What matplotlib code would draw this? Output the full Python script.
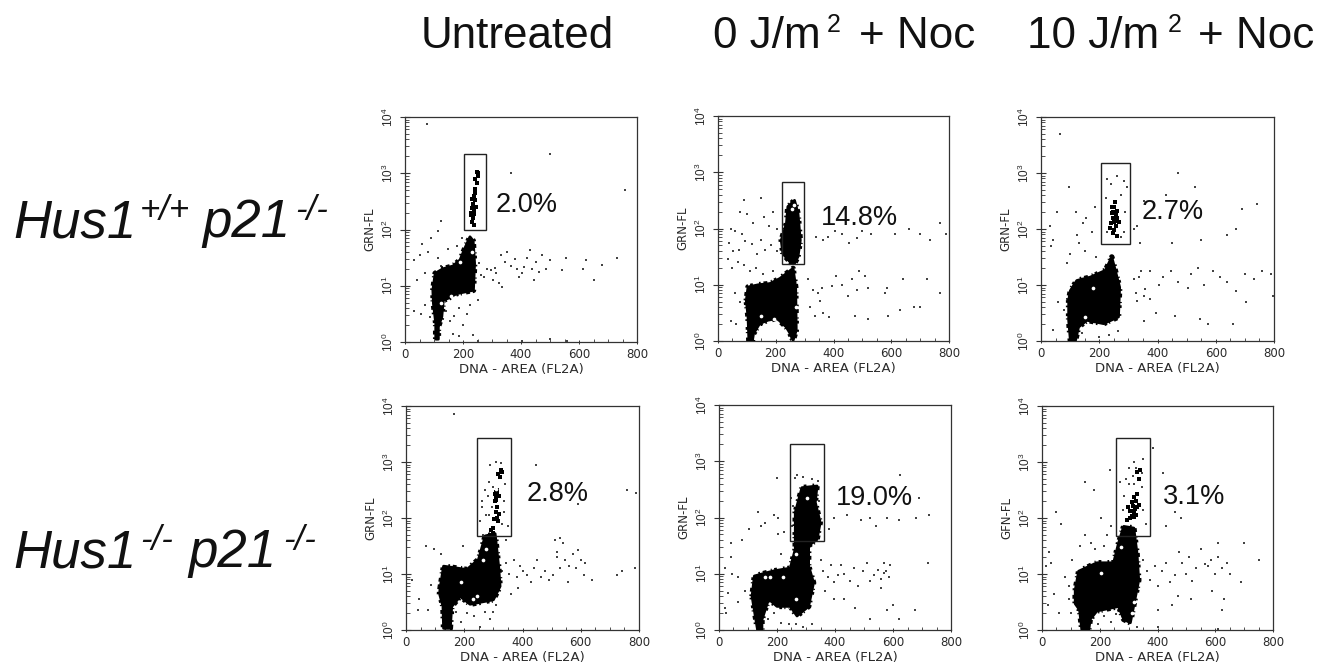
import numpy as np
import matplotlib
matplotlib.use("Agg")
import matplotlib.pyplot as plt
from matplotlib.patches import Rectangle
from matplotlib.ticker import FixedLocator, NullFormatter

plt.rcParams['font.family'] = ['Liberation Sans', 'DejaVu Sans']
plt.rcParams['mathtext.fontset'] = 'dejavusans'
plt.rcParams['mathtext.default'] = 'regular'

PERCENTS = ["2.0%", "14.8%", "2.7%", "2.8%", "19.0%", "3.1%"]
X_TICKS = [0, 200, 400, 600, 800]
Y_DECADES = [0, 1, 2, 3, 4]

# Gates: DNA low, DNA high, log10 GFP low, log10 GFP high
GATES = [(204, 279, 1.99, 3.35), (223, 298, 1.37, 2.83), (206, 304, 1.73, 3.18),
         (245, 361, 1.68, 3.43), (246, 363, 1.59, 3.31), (255, 373, 1.68, 3.42)]

# Dense population outlines: (DNA area, log10 GFP)
BLOB1 = [(96,.92),(104,1.22),(130,1.3),(165,1.35),(190,1.46),(205,1.65),(224,1.87),(235,1.8),(240,1.4),(236,.92),(178,.86),(150,.78),(132,.74),(127,.45),(115,.27),(115,.05),(106,.05),(106,.33),(98,.68)]
BLOB2 = [(98,.72),(104,.96),(140,1.0),(179,1.02),(214,1.11),(260,1.29),(269,.96),(271,.19),(260,.01),(248,.15),(236,.25),(205,.4),(173,.37),(144,.31),(123,.13),(119,0),(107,0),(104,.43)]
BLOB2B = [(254,1.38),(225,1.55),(219,1.79),(237,2.09),(242,2.39),(265,2.5),(277,2.27),(285,1.79),(277,1.5),(265,1.38)]
BLOB3 = [(95,.73),(101,.9),(123,1.08),(169,1.14),(221,1.26),(243,1.5),(255,1.26),(270,.96),(266,.43),(215,.31),(158,.37),(129,.25),(118,0),(101,0),(95,.37)]
BLOB4 = [(118,.78),(129,1.14),(209,1.08),(249,1.26),(272,1.68),(306,1.72),(318,1.14),(323,.78),(300,.54),(220,.46),(186,.6),(157,.42),(152,.03),(129,.03),(127,.42),(115,.65)]
BLOB5 = [(114,.6),(122,.96),(188,1.05),(246,1.1),(263,1.44),(263,2.09),(286,2.53),(338,2.56),(332,2.27),(349,1.91),(338,1.61),(309,1.5),(309,1.14),(326,.84),(309,.42),(269,.25),(246,.42),(200,.42),(171,.55),(148,.18),(148,0),(133,0),(125,.25)]
BLOB6 = [(115,.71),(127,1.05),(190,1.2),(248,1.2),(265,1.55),(283,1.85),(318,1.82),(329,1.37),(335,.89),(317,.42),(306,.13),(283,.19),(265,.42),(190,.34),(167,.19),(162,0),(138,0),(130,.36),(115,.47)]
BLOBS = [[BLOB1], [BLOB2, BLOB2B], [BLOB3], [BLOB4], [BLOB5], [BLOB6]]

# Gaps inside the dense populations: (DNA area, log10 GFP)
HOLES1 = [(232,1.6),(190,1.42),(160,.82),(125,.7)]
HOLES2 = [(255,2.35),(262,2.42),(150,.45),(195,.4),(270,.6)]
HOLES3 = [(180,.95),(150,.42)]
HOLES4 = [(275,1.45),(265,1.25),(230,.55),(245,.6),(190,.85),(308,2.52)]
HOLES5 = [(160,.95),(175,.95),(220,.95),(265,1.35),(305,2.35),(265,.55)]
HOLES6 = [(205,1.02),(275,1.48),(320,.5),(310,.3)]
HOLES = [HOLES1, HOLES2, HOLES3, HOLES4, HOLES5, HOLES6]

# Dense clumps drawn with heavier dots: (DNA area, log10 GFP)
CLUMP1 = [(251,3.0),(253,2.95),(249,3.03),(247,2.82),(243,2.9),(240,2.72),(243,2.65),(238,2.6),(241,2.52),(236,2.45),(232,2.38),(238,2.33),(229,2.25),(235,2.2),(239,2.28),(232,2.14),(228,2.3),(244,2.4),(237,2.08),(231,2.55)]
CLUMP3 = [(252,2.4),(248,2.3),(256,2.27),(246,2.2),(262,2.2),(250,2.12),(240,2.1),(258,2.05),(252,1.98),(236,2.02),(268,2.13),(248,1.92),(262,1.87),(244,2.4),(255,2.48),(254,2.15),(244,2.28),(260,2.33)]
CLUMP4 = [(326,2.85),(317,2.78),(322,2.73),(330,2.82),(310,2.47),(314,2.5),(306,2.42),(318,2.4),(310,2.33),(305,2.3),(312,2.2),(318,2.07),(309,2.1),(314,2.0),(303,1.98),(316,1.95),(291,1.78),(297,1.74),(290,1.7),(300,1.72),(308,2.38),(314,2.42),(300,1.82)]
CLUMP6 = [(305,2.0),(312,2.03),(318,2.1),(322,2.16),(316,2.22),(325,2.3),(318,2.37),(330,2.42),(310,2.28),(304,2.12),(325,2.05),(298,2.2),(335,2.24),(295,1.96),(330,2.82),(340,2.85),(335,2.7),(312,2.12),(320,2.02),(328,2.2)]
CLUMPS = [CLUMP1, [], CLUMP3, CLUMP4, [], CLUMP6]

# Sparse events: (DNA area, log10 GFP)
DOTS1 = [(75,3.87),(500,3.35),(365,3.0),(760,2.7),(125,2.15),(115,1.98),(57,1.75),(52,1.55),(30,1.45),(70,1.22),(40,1.1),(88,1.85),(80,1.6),(115,1.5),(123,1.35),(148,1.65),(178,1.7),(196,1.85),(255,1.4),(262,1.2),(272,1.15),(283,1.3),(295,1.28),(303,1.1),(309,1.32),(315,1.22),(325,1.05),(334,.98),(344,1.42),(330,1.55),(352,1.6),(365,1.35),(378,1.48),(386,1.3),(392,1.15),(402,1.23),(412,1.33),(420,1.5),(431,1.63),(438,1.3),(445,1.1),(452,1.42),(463,1.25),(472,1.55),(486,1.3),(500,1.46),(540,1.28),(555,1.5),(615,1.3),(625,1.45),(650,1.1),(680,1.37),(730,1.5),(70,.65),(55,.5),(85,.45),(30,.55),(140,.55),(155,.38),(170,.47),(185,.6),(200,.3),(215,.5),(225,.65),(250,.75),(165,.15),(185,.1),(235,.12),(500,.05),(405,.02),(560,.02),(250,.02)]
DOTS2 = [(90,2.5),(150,2.55),(77,2.3),(100,2.25),(45,2.0),(60,1.95),(84,1.9),(122,2.1),(160,2.2),(175,2.05),(190,2.3),(205,2.0),(38,1.75),(52,1.6),(72,1.62),(95,1.78),(118,1.72),(135,1.55),(150,1.8),(162,1.62),(185,1.7),(205,1.6),(34,1.45),(50,1.3),(70,1.4),(90,1.35),(110,1.25),(130,1.3),(155,1.2),(190,1.25),(60,.85),(75,.7),(45,.35),(62,.3),(310,1.1),(330,.9),(345,.85),(360,.95),(352,.72),(320,.6),(335,.45),(365,.5),(385,.42),(395,.98),(410,1.15),(430,1.0),(450,.8),(465,1.1),(480,.9),(490,1.25),(510,1.15),(520,.95),(585,.95),(580,.85),(475,.45),(520,.4),(590,.45),(630,.55),(680,.6),(340,1.85),(365,1.8),(382,1.85),(405,1.95),(430,1.9),(455,1.75),(480,1.83),(498,1.95),(530,1.9),(612,1.9),(660,2.0),(700,1.9),(735,1.8),(770,2.1),(790,1.9),(770,.85),(700,.6),(640,1.1),(725,1.1)]
DOTS3 = [(65,3.7),(97,2.75),(120,2.3),(145,2.1),(55,2.3),(30,2.05),(42,1.8),(35,1.7),(155,2.2),(175,1.95),(130,1.75),(100,1.55),(90,1.4),(150,1.6),(190,1.5),(125,1.9),(185,2.4),(430,2.6),(470,3.0),(530,2.75),(740,2.45),(690,2.35),(640,1.9),(670,2.0),(550,1.8),(450,1.75),(340,1.75),(330,2.05),(355,2.5),(320,2.0),(320,1.1),(325,.85),(335,1.15),(345,1.25),(358,.93),(375,1.25),(330,.72),(355,.8),(375,.75),(405,1.0),(420,1.15),(445,1.25),(470,1.05),(505,.95),(515,1.2),(540,1.3),(560,1.0),(590,1.25),(615,1.15),(640,1.05),(670,.9),(700,1.2),(730,1.1),(760,1.25),(790,1.2),(705,.7),(795,.8),(355,.35),(395,.5),(460,.45),(545,.4),(575,.3),(660,.3),(80,.55),(40,.2),(60,.7),(140,.15),(200,.08),(235,.1),(265,.18),(225,2.9),(240,2.8),(262,2.95),(285,2.85),(222,2.55),(275,2.6),(295,2.75),(290,2.3),(225,1.95),(285,1.95),(275,1.85)]
DOTS4 = [(165,3.85),(445,2.95),(760,2.5),(790,2.45),(590,2.25),(510,1.6),(520,1.4),(540,1.55),(530,1.65),(195,1.5),(40,.35),(70,1.5),(95,1.45),(120,1.35),(330,1.05),(345,1.2),(355,1.0),(370,1.25),(380,.95),(390,1.15),(400,1.05),(415,.98),(440,1.1),(450,1.25),(465,.95),(478,1.05),(490,.9),(505,.98),(520,1.3),(530,1.1),(545,1.25),(560,1.15),(575,1.35),(590,1.42),(585,1.1),(600,1.25),(615,1.2),(610,.98),(640,.9),(725,.98),(742,1.05),(785,1.1),(360,.65),(385,.75),(430,.85),(555,.85),(20,.9),(45,.55),(85,.8),(75,.35),(145,.2),(170,.33),(190,.15),(210,.3),(235,.25),(255,.05),(270,.33),(290,.2),(300,.32),(310,.45),(265,1.7),(255,1.95),(262,2.2),(270,2.5),(285,2.65),(260,2.3),(276,2.05),(335,2.1),(350,1.85),(345,1.6),(300,2.55),(340,2.6),(338,2.3),(290,2.95),(310,3.0),(325,2.98),(280,2.4),(295,2.2),(285,2.05),(330,1.9)]
DOTS5 = [(20,1.1),(45,1.0),(30,.65),(65,.95),(90,.7),(65,.5),(20,.4),(25,.3),(40,1.3),(80,1.6),(105,1.8),(135,2.1),(160,1.9),(190,2.05),(205,1.7),(215,1.35),(225,1.75),(145,1.85),(40,1.55),(205,2.0),(248,2.35),(262,2.7),(200,2.7),(625,2.75),(690,2.35),(725,2.05),(680,2.0),(620,1.95),(580,2.0),(540,1.85),(520,2.0),(490,1.95),(440,2.05),(395,2.0),(380,1.8),(350,1.25),(360,1.05),(375,.95),(385,1.15),(395,.85),(410,.98),(420,1.15),(432,1.0),(450,.88),(465,1.1),(480,.78),(495,1.05),(510,1.2),(520,.88),(535,.98),(548,1.07),(560,.9),(568,1.02),(577,1.05),(585,.95),(570,1.2),(590,1.15),(560,.75),(365,.7),(395,.55),(430,.55),(470,.4),(520,.2),(580,.35),(600,.45),(620,.2),(675,.35),(720,1.2),(170,.2),(190,.3),(215,.12),(240,.1),(265,.1),(290,.05),(320,.1),(270,2.75),(290,2.72),(320,2.68),(340,2.65),(345,2.3),(255,2.2),(252,1.85)]
DOTS6 = [(50,2.1),(65,1.9),(25,1.4),(30,1.2),(15,1.15),(40,.65),(20,.45),(80,.95),(95,.78),(105,1.25),(130,1.5),(150,1.7),(170,1.55),(185,1.45),(215,1.5),(225,1.7),(240,1.85),(205,2.0),(180,2.5),(150,2.65),(235,2.85),(320,3.0),(385,3.25),(420,2.8),(460,2.1),(430,1.85),(480,2.0),(700,1.55),(610,1.55),(350,1.25),(365,1.05),(375,.9),(390,1.15),(400,.78),(415,1.05),(430,1.2),(445,.85),(460,.98),(475,1.4),(485,1.2),(498,1.0),(510,1.3),(520,.88),(535,1.1),(550,1.45),(565,1.17),(575,1.14),(585,1.25),(600,1.0),(610,1.3),(625,1.1),(640,1.2),(650,1.0),(590,.7),(470,.6),(515,.55),(450,.45),(625,.35),(630,.55),(400,.35),(750,1.25),(690,.85),(240,.15),(255,.28),(215,.25),(195,.1),(330,.05),(400,.05),(610,.02),(100,.3),(60,.3),(95,.55),(270,2.65),(350,2.15),(360,1.9),(285,2.4),(300,2.6),(320,2.6),(345,2.55),(295,1.95),(280,2.15),(350,3.05),(300,2.9),(315,2.75),(325,2.9),(345,2.8),(290,2.7)]
DOTS = [DOTS1, DOTS2, DOTS3, DOTS4, DOTS5, DOTS6]

W, H = 1318, 662
# Pixel frames of the panels: left, right, top, bottom
FRAMES = [(405, 637, 117, 342), (718, 949, 116, 341), (1041, 1274, 117, 341),
          (406, 639, 406, 630), (719, 951, 405, 630), (1042, 1273, 406, 630)]
YLABEL_SHOWN = ["GRN-FL", "GRN-FL", "GRN-FL", "GRN-FL", "GRN-FL", "GFN-FL"]
PCT_POS = [(496, 205), (821, 218), (1142, 212), (527, 494), (836, 498), (1163, 497)]
INK = '#2a2a2a'

# Text pieces: text, left px, baseline px, size, style
TEXT_PIECES = [
    ("Untreated", 421, 48, 31.7, 'normal'),
    ("0 J/m", 713, 48, 31.7, 'normal'), ("2", 827, 32, 18, 'normal'), ("+ Noc", 859, 48, 31.7, 'normal'),
    ("10 J/m", 1027, 48, 31.7, 'normal'), ("2", 1168, 32, 18, 'normal'), ("+ Noc", 1198, 48, 31.7, 'normal'),
    ("Hus1", 13, 237, 38, 'italic'), ("+/+", 140, 220, 25, 'italic'),
    ("p21", 202, 237, 38, 'italic'), ("-/-", 295, 220, 25, 'italic'),
    ("Hus1", 13, 567, 38, 'italic'), ("-/-", 140, 550, 25, 'italic'),
    ("p21", 188, 567, 38, 'italic'), ("-/-", 283, 550, 25, 'italic'),
]

fig = plt.figure(figsize=(W / 100, H / 100), dpi=100, facecolor='white')
minors = [m * 10 ** d for d in range(4) for m in range(2, 10)]

for i, (l, r, t, b) in enumerate(FRAMES):
    ax = fig.add_axes([l / W, 1 - b / H, (r - l) / W, (b - t) / H])
    ax.set_xlim(0, 800)
    ax.set_yscale('log')
    ax.set_ylim(1, 10000)
    for blob in BLOBS[i]:
        arr = np.array(blob)
        ax.fill(arr[:, 0], 10 ** arr[:, 1], color='black', lw=2.0, joinstyle='round', zorder=3)
        loop = np.vstack([arr, arr[:1]])
        ax.plot(loop[:, 0], 10 ** loop[:, 1], color='black', lw=4,
                linestyle=(0, (0.3, 0.5, 0.7, 0.8, 0.2, 0.4, 0.5, 1.1)), zorder=3)
    arr = np.array(HOLES[i])
    ax.scatter(arr[:, 0], 10 ** arr[:, 1], s=7, marker='o', color='white', lw=0, zorder=3.5)
    if CLUMPS[i]:
        arr = np.array(CLUMPS[i])
        ax.scatter(arr[:, 0], 10 ** arr[:, 1], s=9, marker='s', color='black', lw=0, zorder=3)
    arr = np.array(DOTS[i])
    ax.scatter(arr[:, 0], 10 ** arr[:, 1], s=1.4, marker='s', color='#444444', lw=0, zorder=2)
    x0, x1, y0, y1 = GATES[i]
    ax.add_patch(Rectangle((x0, 10 ** y0), x1 - x0, 10 ** y1 - 10 ** y0, fill=False,
                           ec='#222222', lw=1.0, zorder=4))
    for s in ax.spines.values():
        s.set_linewidth(0.9)
        s.set_color('#333333')
    ax.set_xticks(X_TICKS)
    ax.set_xticks(np.arange(0, 801, 50), minor=True)
    ax.xaxis.set_minor_formatter(NullFormatter())
    ax.set_yticks([10 ** d for d in Y_DECADES])
    ax.set_yticklabels(["$10^{%d}$" % d for d in Y_DECADES], rotation=90, va='center',
                       fontsize=8.5, color=INK)
    ax.yaxis.set_minor_locator(FixedLocator(minors))
    ax.yaxis.set_minor_formatter(NullFormatter())
    ax.tick_params(axis='x', which='major', length=3, width=0.7, direction='inout',
                   labelsize=8.5, labelcolor=INK, pad=2.5, color='#333333')
    ax.tick_params(axis='x', which='minor', length=2, width=0.6, direction='in', color='#333333')
    ax.tick_params(axis='y', which='major', length=7, width=0.8, direction='inout', pad=3, color='#333333')
    ax.tick_params(axis='y', which='minor', length=3, width=0.6, direction='in', color='#333333')
    for lab in ax.get_xticklabels():
        lab.set_family('DejaVu Sans')
    ax.set_xlabel("DNA - AREA (FL2A)", fontsize=9.5, color=INK, labelpad=1.5, family='DejaVu Sans')
    ax.set_ylabel(YLABEL_SHOWN[i], fontsize=8.5, color=INK, labelpad=3, family='DejaVu Sans')
    fig.text(PCT_POS[i][0] / W, 1 - PCT_POS[i][1] / H, PERCENTS[i], fontsize=19.5,
             va='center', ha='left', color='#111111', zorder=6)

for txt, x, y, size, style in TEXT_PIECES:
    fig.text(x / W, 1 - y / H, txt, fontsize=size, style=style, ha='left', va='baseline', color='#111111')

fig.savefig('out.png', dpi=100, facecolor='white')
